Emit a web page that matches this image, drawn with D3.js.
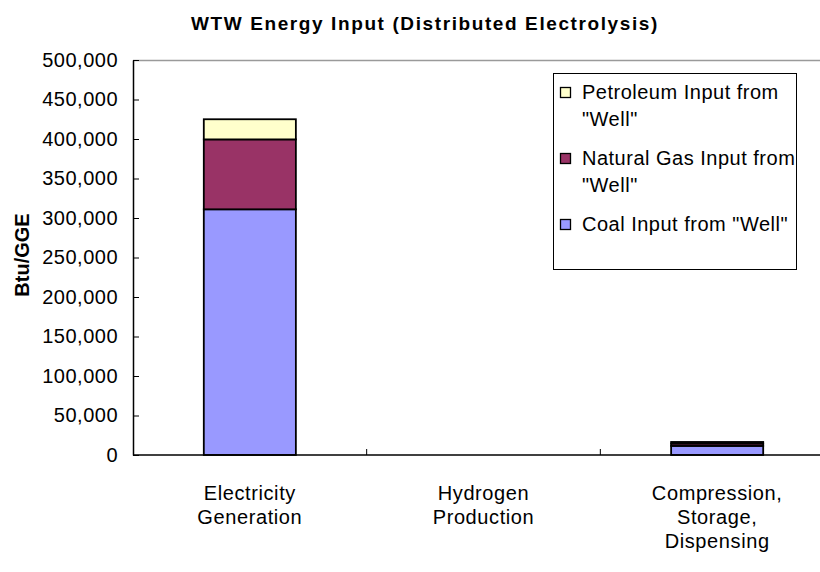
<!DOCTYPE html>
<html>
<head>
<meta charset="utf-8">
<script src="https://cdn.jsdelivr.net/npm/d3@7"></script>
<style>
  html, body { margin: 0; padding: 0; background: #fff; }
  svg { display: block; font-family: Arial, "Liberation Sans", sans-serif; }
</style>
</head>
<body>
<svg id="chart" width="820" height="572"></svg>
<script>
// Well-to-wheels energy input by stage, Btu per gallon gasoline equivalent
const categories = [
  ["Electricity", "Generation"],
  ["Hydrogen", "Production"],
  ["Compression,", "Storage,", "Dispensing"]
];
const coal       = [311000, 0, 11500];
const naturalGas = [88500, 0, 3000];
const petroleum  = [25500, 0, 2000];
const yTicks = [0, 50000, 100000, 150000, 200000, 250000, 300000, 350000, 400000, 450000, 500000];

const seriesDefs = [
  { key: "coal", label: ["Coal Input from \"Well\""], values: coal, color: "#9999FF" },
  { key: "ng", label: ["Natural Gas Input from", "\"Well\""], values: naturalGas, color: "#993366" },
  { key: "pet", label: ["Petroleum Input from", "\"Well\""], values: petroleum, color: "#FFFFCC" }
];

const svg = d3.select("#chart");
const m = { left: 133, top: 60, right: 834, bottom: 455 };

const catKeys = categories.map((c, i) => i);
const x = d3.scaleBand().domain(catKeys).range([m.left, m.right])
  .paddingInner(0.606).paddingOuter(0.303);
const y = d3.scaleLinear().domain([0, 500000]).range([m.bottom, m.top]);

// stacked data
const rows = catKeys.map(i => ({ i, coal: coal[i], ng: naturalGas[i], pet: petroleum[i] }));
const stacked = d3.stack().keys(["coal", "ng", "pet"])(rows);

// plot frame: gray top edge
svg.append("line")
  .attr("x1", m.left).attr("x2", m.right)
  .attr("y1", m.top + 0.5).attr("y2", m.top + 0.5)
  .attr("stroke", "#9a9a9a").attr("stroke-width", 1.5);

// bars
stacked.forEach((layer, li) => {
  svg.append("g").selectAll("rect")
    .data(layer.filter(d => d[1] - d[0] > 0))
    .join("rect")
    .attr("x", d => x(d.data.i))
    .attr("width", x.bandwidth())
    .attr("y", d => y(d[1]))
    .attr("height", d => y(d[0]) - y(d[1]))
    .attr("fill", seriesDefs[li].color)
    .attr("stroke", "#000")
    .attr("stroke-width", 1.8);
});

// y axis
const yAxis = d3.axisLeft(y).tickValues(yTicks).tickSizeInner(-6).tickSizeOuter(0)
  .tickPadding(15).tickFormat(d3.format(","));
const yg = svg.append("g").attr("transform", `translate(${m.left},0)`).call(yAxis);
yg.select(".domain").attr("stroke", "#000").attr("stroke-width", 1.5);
yg.selectAll(".tick line").attr("stroke", "#000").attr("stroke-width", 1);
yg.selectAll(".tick text").attr("font-size", 20).attr("fill", "#000")
  .attr("letter-spacing", "0.5px").attr("font-family", "Arial, 'Liberation Sans', sans-serif");

// x axis baseline with category divider ticks
svg.append("line")
  .attr("x1", m.left).attr("x2", m.right)
  .attr("y1", m.bottom).attr("y2", m.bottom)
  .attr("stroke", "#000").attr("stroke-width", 1.5);
const step = x.step();
catKeys.slice(1).forEach(i => {
  const bx = x(i) - x.paddingInner() * step / 2;
  svg.append("line")
    .attr("x1", bx).attr("x2", bx)
    .attr("y1", m.bottom).attr("y2", m.bottom - 6)
    .attr("stroke", "#000").attr("stroke-width", 1);
});

// category labels
categories.forEach((lines, i) => {
  const cx = x(i) + x.bandwidth() / 2;
  const t = svg.append("text").attr("text-anchor", "middle")
    .attr("font-size", 20).attr("letter-spacing", "0.6px").attr("fill", "#000");
  lines.forEach((ln, k) => {
    t.append("tspan").attr("x", cx).attr("y", 500 + k * 24).text(ln);
  });
});

// title
svg.append("text").attr("x", 425).attr("y", 30).attr("text-anchor", "middle")
  .attr("font-size", 19).attr("font-weight", "bold").attr("letter-spacing", "1.6px")
  .attr("fill", "#000").text("WTW Energy Input (Distributed Electrolysis)");

// y axis title
svg.append("text")
  .attr("transform", "translate(29,255) rotate(-90)")
  .attr("text-anchor", "middle").attr("font-size", 20).attr("font-weight", "bold")
  .attr("fill", "#000").text("Btu/GGE");

// legend
const lg = svg.append("g");
lg.append("rect").attr("x", 553.5).attr("y", 73.5).attr("width", 243).attr("height", 196)
  .attr("fill", "#fff").attr("stroke", "#000").attr("stroke-width", 1);
const legendOrder = [seriesDefs[2], seriesDefs[1], seriesDefs[0]];
const legendY = [99, 165, 231];
legendOrder.forEach((s, k) => {
  const by = legendY[k];
  lg.append("rect").attr("x", 560.5).attr("y", by - 11.5).attr("width", 10).attr("height", 10)
    .attr("fill", s.color).attr("stroke", "#000").attr("stroke-width", 1.3);
  const t = lg.append("text").attr("font-size", 20).attr("letter-spacing", "0.5px").attr("fill", "#000");
  s.label.forEach((ln, j) => {
    t.append("tspan").attr("x", 582).attr("y", by + j * 26.5).text(ln);
  });
});
</script>
</body>
</html>
